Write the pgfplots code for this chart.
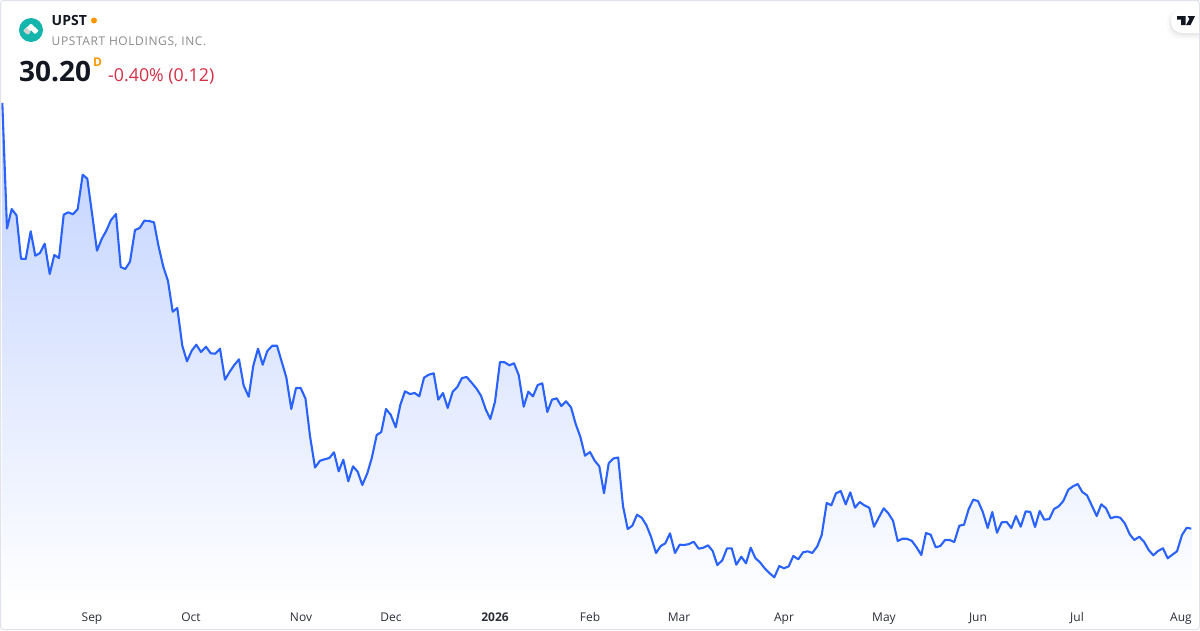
\documentclass[border=0pt]{standalone}
\usepackage{pgfplots}
\usepackage{pgfplotstable}
\pgfplotsset{compat=1.18}
\usepackage{fontspec}
\setmainfont{Open Sans}
\definecolor{tvline}{HTML}{2962FF}
\definecolor{tvtop}{HTML}{BFD0FF}
\definecolor{tvborder}{HTML}{E0E3EB}
\definecolor{tvred}{HTML}{D32F45}
\definecolor{tvorange}{HTML}{FF9800}
\definecolor{tvtext}{HTML}{131722}
\definecolor{tvgray}{HTML}{8A8A8A}
\definecolor{logoteal}{HTML}{13B5AC}
\pgfplotstableread{
x y
2.3 103
7 228.5
11.7 209
16.5 215.3
21 258.7
25.7 259
30.7 231.3
35.3 255.7
40 253
44.7 243.7
49.7 274
54.3 255
59 258
63.7 214.7
68.3 212.3
73 214.3
77.7 209
82.7 174.7
87.3 178.7
92 213.3
97 250.7
101.7 239
106.3 230.7
111 220
116 214
120.7 267
125.3 269
130 261.7
135 230
139.7 228
144.3 220.7
149 221
154 222.3
158.3 245
163.3 266.7
168 281
172.7 311.7
177.3 308
182.3 345.7
187 361.3
191.7 350.7
196.3 344.7
201 352
206 346.7
210.7 353.3
215.3 353.7
220 348.7
225 379.7
229.7 371.7
234.3 365
239 359.3
243.7 385.7
248.7 396.7
253.3 365.7
258 348.7
262.7 364.7
267.3 351
272.3 345.7
277 345.7
281.7 361.7
286.3 377.3
291.3 409
296 388
300.7 388
305.5 398.7
310 436
315 467.5
320 460.7
324.7 459.3
329.3 458
334 452.3
338.7 471.3
343.3 459.7
348.3 481.3
353 466.3
357.7 471.7
362.3 485
367.3 473.3
371.7 458.3
376.7 435
381.3 432
386 409
390.7 414.7
395.7 427.3
400.3 405
405 391.3
410 394
414.7 393
419.3 396.3
424 377.7
428.7 374.7
433.7 373.3
438.3 399.7
443 393
447.7 408
452.7 391.7
457.3 387
462 378
466.7 377
471.3 382.3
476.3 388.3
481 395.7
485.7 409.3
490.3 419
495 401.7
500 362
504.7 362.3
509.3 365.3
514 363.3
518.7 375
523.7 406.7
528.3 391.7
533 396.3
537.7 385
542.3 383.3
547.3 412
552 399.7
556.7 398.3
561.3 406
566 401.3
571 407.3
575.7 424
580.3 436.7
585 455.7
590 452
594.7 460.7
599.3 466.3
604 493.2
608.7 463.3
613.3 458.5
618.2 457.5
623 506
627.7 529
632.3 525.7
637 514.7
641.7 517.7
646.3 525
651 536.7
656 553
660.7 546
665.3 543.3
670 533.3
675 553
679.7 544.7
684.3 545
689 544
693.7 541.7
698.7 548.7
703.3 547.7
708 545.3
712.7 551
717.3 565
722.3 560.3
727 548.3
731.7 548.3
736.3 564.7
741.3 556.7
746 563.3
750.7 547.7
755.3 558
760 562.3
765 568.7
769.7 573.3
774.3 577.3
779.3 566
784 568.3
788.7 566.3
793.3 556
798.3 559.3
803 552.3
807.7 551.3
812.3 553
817.3 546.3
821.7 535
826.7 503
831.3 505.3
836 493.3
840.7 491
845.7 504.3
850.3 492.3
855 507.7
859.7 502
864.3 505.3
869.3 507.7
874 526.7
878.7 517.7
883.7 508.3
888.3 513.3
893 520.7
897.7 541
902.3 538.7
907 538.8
911.8 540.8
916.7 547.5
921.3 555
926 533
930.7 534.7
935.7 547.3
940.3 546
945 540
949.7 540
954.3 542
959.3 525.7
964 524.7
968.7 509
973.3 499.7
978 501
982.7 511.7
987.7 528
992.3 512
997 532.7
1001.7 522.3
1006.7 522
1011.3 528
1016 516
1020.7 526.7
1025.7 511.3
1030.3 512
1035 527
1039.7 511
1044.3 519.7
1049.3 519
1054 509
1058.7 506.3
1063.3 501
1068.3 489.7
1073 486.3
1077.7 484
1082.3 492
1087 495.3
1092 506
1096.7 516
1101.3 504.3
1106 508.3
1110.7 518.3
1115.7 516.7
1120.3 517.7
1125 523.7
1129.7 534.3
1134.3 540
1139.3 536.7
1144 541.7
1148.7 550
1153.3 555.3
1158 551
1163 548.3
1167.7 558.3
1172.3 554.7
1177 551.3
1182 535
1186.7 527.7
1191.3 528.7
}\upst
\begin{document}
\begin{tikzpicture}[x=1pt,y=-1pt]
\useasboundingbox (0,0) rectangle (1200,630);
\fill[white] (0,0) rectangle (1200,630);
\begin{axis}[
  at={(0pt,-605pt)},anchor=south west,
  scale only axis,width=1200pt,height=605pt,
  xmin=0,xmax=1200,ymin=25,ymax=630,
  axis line style={draw=none},
  ymajorticks=false,
  xtick={92,191,301,391,495,590,679,784,884,978,1077,1181},
  xticklabels={Sep,Oct,Nov,Dec,\textbf{2026},Feb,Mar,Apr,May,Jun,Jul,Aug},
  tick style={draw=none},
  x tick label style={font=\fontsize{12}{14}\selectfont,text=tvtext!90,text height=9pt,text depth=3pt},
  xticklabel shift=4pt,
  clip=true,
]
\addplot[draw=none,top color=tvtop,bottom color=white,forget plot]
  table[x=x,y expr=630-\thisrow{y}] {\upst} -- (axis cs:1191.3,25) -- (axis cs:2.3,25) -- cycle;
\addplot[tvline,line width=2.1pt,line join=round] table[x=x,y expr=630-\thisrow{y}] {\upst};
\end{axis}
% card border
\draw[tvborder,line width=1pt,rounded corners=3pt] (0.5,0.5) rectangle (1199.5,629.5);
% header
\fill[logoteal] (31,30) circle (12);
\fill[white,rounded corners=0.8pt] (23.3,30.7) -- (31,23.5) -- (38.7,30.7) -- (35,34.3) -- (31,30) -- (27,34.3) -- cycle;
\fill[white!82!black,rounded corners=0.6pt] (23.3,30.7) -- (26.6,27.6) -- (30.8,31.8) -- (28.5,34.6) -- (27,34.3) -- cycle;
\node[anchor=base west,inner sep=0,font=\fontsize{14}{16}\selectfont\bfseries,text=tvtext] at (51.5,25.5) {UPST};
\fill[tvorange] (94,20.5) circle (3);
\node[anchor=base west,inner sep=0,font=\fontsize{12}{14}\selectfont\addfontfeature{LetterSpace=5},text=tvgray] at (51.5,45.5) {UPSTART HOLDINGS, INC.};
\node[anchor=base west,inner sep=0,font=\fontsize{28}{30}\selectfont\bfseries,text=tvtext] at (19,81) {30.20};
\node[anchor=base west,inner sep=0,font=\fontsize{12}{14}\selectfont\bfseries,text=tvorange] at (93,66) {D};
\node[anchor=base west,inner sep=0,font=\fontsize{17.8}{20}\selectfont,text=tvred] at (108,81) {-0.40\% (0.12)};
% watermark button
\fill[black,opacity=.02,rounded corners=12pt] (1167,9) rectangle (1215,39);
\fill[black,opacity=.03,rounded corners=12pt] (1169,10) rectangle (1215,37);
\fill[black,opacity=.04,rounded corners=12pt] (1170,11) rectangle (1215,35);
\fill[white,rounded corners=11pt] (1171,9) rectangle (1215,33);
\draw[tvborder,line width=1pt] (1171,0.5) -- (1199,0.5);
\fill[tvtext] (1177,16) -- (1185.5,16) -- (1185.5,25) -- (1181,25) -- (1181,19.5) -- (1177,19.5) -- cycle;
\fill[tvtext] (1187.5,16) -- (1195,16) -- (1190.5,25) -- (1186,25) -- (1189.5,19) -- cycle;
\draw[tvborder,line width=1pt] (1199.5,3) -- (1199.5,45);
\end{tikzpicture}
\end{document}
